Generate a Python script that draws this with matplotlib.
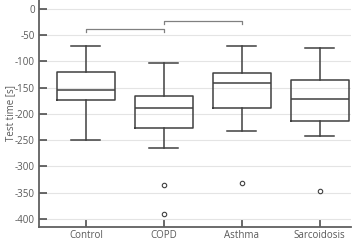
import matplotlib
matplotlib.use('Agg')
import matplotlib.pyplot as plt

# box statistics (test time in seconds)
groups = ['Control', 'COPD', 'Asthma', 'Sarcoidosis']
whis_hi = [-70, -103, -70, -74]
q3 = [-121, -165, -122, -135]
median = [-155, -189, -142, -171]
q1 = [-174, -226, -189, -214]
whis_lo = [-249, -265, -233, -242]
outliers = [[], [-336, -390], [-331], [-347]]

# significance brackets: (left group, right group, level)
brackets = [(1, 2, -38), (2, 3, -23)]

plt.rcParams['font.family'] = ['Open Sans', 'DejaVu Sans']
plt.rcParams['axes.unicode_minus'] = False
text_col = '#595959'
line_col = '#404040'

fig = plt.figure(figsize=(3.58, 2.4), dpi=100)
ax = fig.add_axes([0.109, 0.0554, 0.8715, 0.9446])

stats = []
for i, g in enumerate(groups):
    stats.append(dict(label=g, med=median[i], q1=q1[i], q3=q3[i],
                      whislo=whis_lo[i], whishi=whis_hi[i], fliers=outliers[i]))

lw = 1.1
ax.bxp(stats, positions=[1, 2, 3, 4], widths=0.74, capwidths=0.37,
       boxprops=dict(color=line_col, linewidth=lw),
       medianprops=dict(color=line_col, linewidth=lw),
       whiskerprops=dict(color=line_col, linewidth=lw),
       capprops=dict(color=line_col, linewidth=lw),
       flierprops=dict(marker='o', markersize=3.2, markerfacecolor='white',
                       markeredgecolor=line_col, markeredgewidth=0.8),
       zorder=3)

for a, b, h in brackets:
    ax.plot([a, a, b, b], [h - 6, h, h, h - 6], color='#808080', linewidth=0.9,
            zorder=3)

ax.set_xlim(0.4, 4.4)
ax.set_ylim(-415, 17)
ax.set_yticks(range(-400, 1, 50))
ax.yaxis.grid(True, color='#e4e4e4', linewidth=0.8)
ax.set_axisbelow(True)

ax.set_ylabel('Test time [s]', fontsize=7, color=text_col)
ax.yaxis.set_label_coords(-0.072, 0.5)
ax.tick_params(axis='both', direction='in', length=5.5, width=1.1,
               colors=line_col, labelcolor=text_col, labelsize=7)
ax.tick_params(axis='y', pad=3)
ax.tick_params(axis='x', pad=2.5)

for s in ['top', 'right']:
    ax.spines[s].set_visible(False)
for s in ['left', 'bottom']:
    ax.spines[s].set_color('#606060')
    ax.spines[s].set_linewidth(1.3)

fig.savefig('out.png', dpi=100)
